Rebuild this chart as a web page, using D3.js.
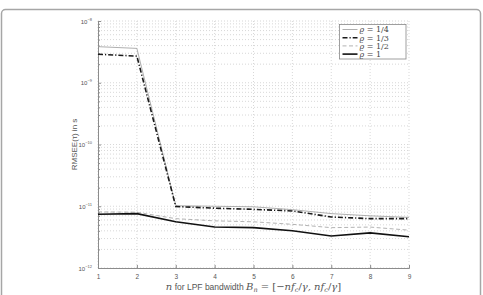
<!DOCTYPE html>
<html>
<head>
<meta charset="utf-8">
<script src="https://cdn.jsdelivr.net/npm/d3@7"></script>
<style>
  body { margin: 0; background: #fff; }
  svg { display: block; }
</style>
</head>
<body>
<svg id="chart"></svg>
<script>
// data
const nValues = [1, 2, 3, 4, 5, 6, 7, 8, 9];
const rhoQuarter = [3.84e-9, 3.6e-9, 1.02e-11, 1.0e-11, 9.8e-12, 8.8e-12, 7.6e-12, 7.0e-12, 6.6e-12];
const rhoThird   = [2.9e-9, 2.7e-9, 9.9e-12, 9.3e-12, 8.9e-12, 8.4e-12, 6.7e-12, 6.3e-12, 6.3e-12];
const rhoHalf    = [8.1e-12, 8.0e-12, 6.3e-12, 5.8e-12, 5.6e-12, 5.1e-12, 4.5e-12, 4.6e-12, 4.1e-12];
const rhoOne     = [7.4e-12, 7.6e-12, 5.6e-12, 4.6e-12, 4.5e-12, 4.0e-12, 3.3e-12, 3.7e-12, 3.2e-12];
const seriesNames = ["1/4", "1/3", "1/2", "1"];
const yTickExps = [-12, -11, -10, -9, -8];

const W = 483, H = 295;
const margin = { top: 21, right: 74, bottom: 27, left: 98 };

const svg = d3.select("#chart").attr("width", W).attr("height", H);

// outer frame
svg.append("rect")
  .attr("x", 1.5).attr("y", 9.5)
  .attr("width", 479).attr("height", 300)
  .attr("rx", 4)
  .attr("fill", "none").attr("stroke", "#a6a6a6").attr("stroke-width", 1.5);

const x = d3.scaleLinear().domain([1, 9]).range([margin.left, W - margin.right]);
const y = d3.scaleLog().domain([1e-12, 1e-8]).range([H - margin.bottom, margin.top]);

const g = svg.append("g");

// grid (dotted)
const minorVals = [];
for (let e = -12; e < -8; e++) {
  for (let k = 1; k <= 9; k++) minorVals.push(k * Math.pow(10, e));
}
minorVals.push(1e-8);
g.append("g").selectAll("line").data(minorVals).join("line")
  .attr("x1", x(1)).attr("x2", x(9))
  .attr("y1", d => y(d)).attr("y2", d => y(d))
  .attr("stroke", "#bdbdbd").attr("stroke-width", 0.6)
  .attr("stroke-dasharray", "1,2");
g.append("g").selectAll("line").data(nValues).join("line")
  .attr("x1", d => x(d)).attr("x2", d => x(d))
  .attr("y1", y(1e-12)).attr("y2", y(1e-8))
  .attr("stroke", "#bdbdbd").attr("stroke-width", 0.6)
  .attr("stroke-dasharray", "1,2");

// axes
const xAxis = d3.axisBottom(x).tickValues(nValues).tickFormat(d3.format("d")).tickSize(-3).tickPadding(6);
const gx = g.append("g").attr("transform", `translate(0,${y(1e-12)})`).call(xAxis);
gx.select(".domain").attr("stroke", "#8c8c8c");
gx.selectAll(".tick line").attr("stroke", "#8c8c8c");
gx.selectAll("text").attr("fill", "#555").attr("font-size", 6.5).attr("font-family", "Liberation Sans, Arial, sans-serif");

const yAxis = d3.axisLeft(y).tickValues(minorVals).tickFormat("").tickSizeInner(-2).tickSizeOuter(0);
const gy = g.append("g").attr("transform", `translate(${x(1)},0)`).call(yAxis);
gy.select(".domain").attr("stroke", "#8c8c8c");
gy.selectAll(".tick line").attr("stroke", "#8c8c8c")
  .attr("x2", d => (Math.abs(Math.log10(d) - Math.round(Math.log10(d))) < 1e-9 ? 3 : 2));

// y tick labels: 10 with superscript
const yl = g.append("g").selectAll("text").data(yTickExps).join("text")
  .attr("x", x(1) - 6).attr("y", d => y(Math.pow(10, d)) + 2.5)
  .attr("text-anchor", "end")
  .attr("fill", "#555").attr("font-size", 6)
  .attr("font-family", "Liberation Sans, Arial, sans-serif");
yl.append("tspan").text("10");
yl.append("tspan").attr("dy", -3).attr("font-size", 4).text(d => "\u2212" + (-d));

// lines
const line = d3.line().x((d, i) => x(nValues[i])).y(d => y(d));
const styles = [
  { data: rhoQuarter, stroke: "#9a9a9a", width: 0.8, dash: null },
  { data: rhoThird, stroke: "#1a1a1a", width: 1.6, dash: "5,2,1.2,2" },
  { data: rhoHalf, stroke: "#a0a0a0", width: 0.8, dash: "4,2.5" },
  { data: rhoOne, stroke: "#111", width: 1.6, dash: null }
];
styles.forEach(s => {
  g.append("path").datum(s.data)
    .attr("d", line)
    .attr("fill", "none")
    .attr("stroke", s.stroke)
    .attr("stroke-width", s.width)
    .attr("stroke-dasharray", s.dash);
});

// legend
const lg = svg.append("g").attr("transform", "translate(339.5,24.5)");
lg.append("rect").attr("width", 66.5).attr("height", 34.5)
  .attr("fill", "#fff").attr("stroke", "#888").attr("stroke-width", 0.8);
styles.forEach((s, i) => {
  const ly = 5 + i * 8.2;
  lg.append("line").attr("x1", 3).attr("x2", 18).attr("y1", ly).attr("y2", ly)
    .attr("stroke", s.stroke).attr("stroke-width", s.width).attr("stroke-dasharray", s.dash);
  const t = lg.append("text").attr("x", 20).attr("y", ly + 2.8)
    .attr("font-family", "DejaVu Serif, Liberation Serif, serif").attr("font-size", 8).attr("fill", "#444");
  t.append("tspan").attr("font-style", "italic").text("\u03f1");
  t.append("tspan").text(" = " + seriesNames[i]);
});

// y label
svg.append("text")
  .attr("transform", `translate(77,${(y(1e-8) + y(1e-12)) / 2}) rotate(-90)`)
  .attr("text-anchor", "middle")
  .attr("font-family", "Liberation Sans, Arial, sans-serif").attr("font-size", 8).attr("fill", "#555")
  .text("RMSEE(\u03c4) in s");

// x label
const xl = svg.append("text")
  .attr("x", (x(1) + x(9)) / 2).attr("y", 290)
  .attr("text-anchor", "middle")
  .attr("font-size", 10).attr("fill", "#555")
  .attr("font-family", "DejaVu Serif, serif");
xl.append("tspan").attr("font-style", "italic").text("n");
xl.append("tspan").attr("font-family", "Liberation Sans, Arial, sans-serif").attr("font-size", 8.5).text(" for LPF bandwidth ");
xl.append("tspan").attr("font-style", "italic").text("B");
xl.append("tspan").attr("font-style", "italic").attr("font-size", 6.5).attr("dy", 1.5).text("n");
xl.append("tspan").attr("dy", -1.5).text(" = [\u2212");
xl.append("tspan").attr("font-style", "italic").text("nf");
xl.append("tspan").attr("font-style", "italic").attr("font-size", 6.5).attr("dy", 1.5).text("c");
xl.append("tspan").attr("dy", -1.5).text("/");
xl.append("tspan").attr("font-style", "italic").text("\u03b3, nf");
xl.append("tspan").attr("font-style", "italic").attr("font-size", 6.5).attr("dy", 1.5).text("c");
xl.append("tspan").attr("dy", -1.5).text("/");
xl.append("tspan").attr("font-style", "italic").text("\u03b3");
xl.append("tspan").text("]");
</script>
</body>
</html>
